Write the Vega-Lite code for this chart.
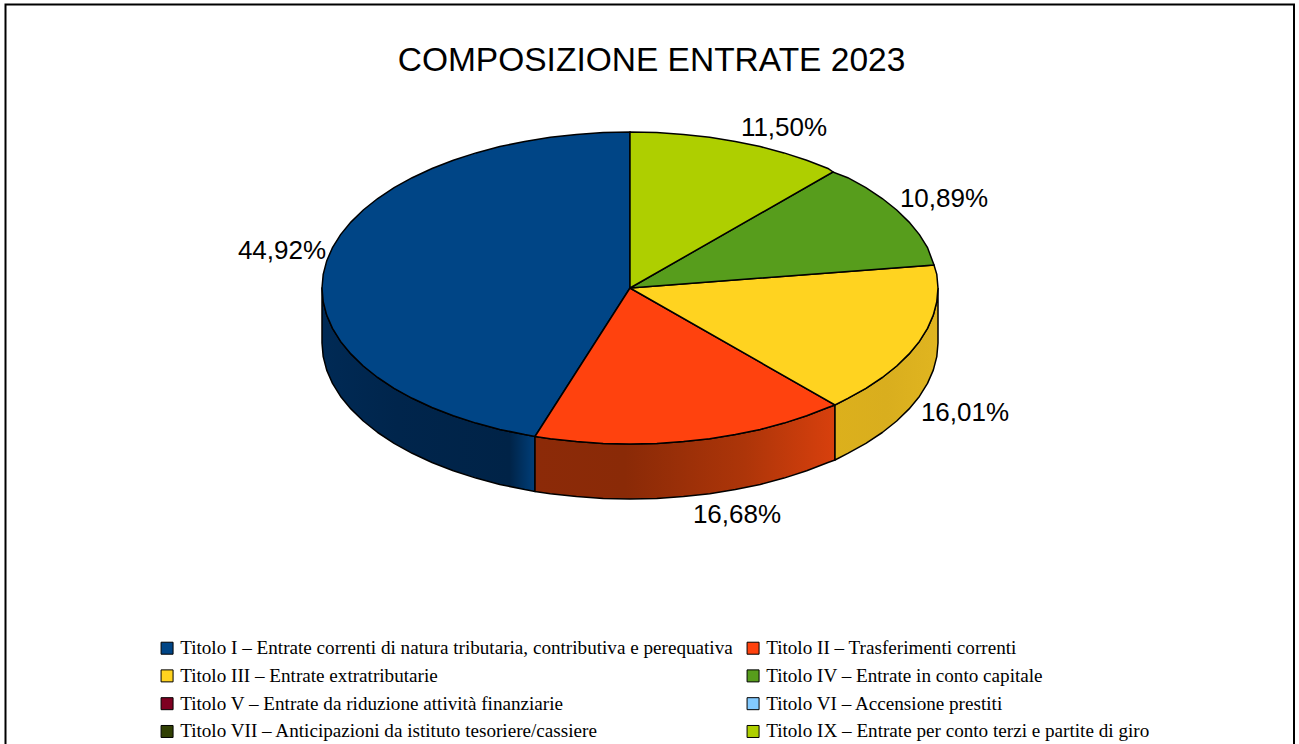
{
"$schema":"https://vega.github.io/schema/vega-lite/v6.json",
"width":1299,"height":744,"padding":0,"autosize":"none",
"background":"white",
"title":{"text":"COMPOSIZIONE ENTRATE 2023","font":"Liberation Sans","fontSize":33.5,"fontWeight":"normal","color":"#000000","anchor":"middle","frame":"group","orient":"top","offset":-78,"dx":2},
"config":{"view":{"stroke":null}},
"datasets":{
"slices":[
{"t":"I","titolo":"Titolo I – Entrate correnti di natura tributaria, contributiva e perequativa","pct":44.92,"label":"44,92%","lx":-348,"ly":37},
{"t":"II","titolo":"Titolo II – Trasferimenti correnti","pct":16.68,"label":"16,68%","lx":107,"ly":-227},
{"t":"III","titolo":"Titolo III – Entrate extratributarie","pct":16.01,"label":"16,01%","lx":335,"ly":-125},
{"t":"IV","titolo":"Titolo IV – Entrate in conto capitale","pct":10.89,"label":"10,89%","lx":314,"ly":89},
{"t":"IX","titolo":"Titolo IX – Entrate per conto terzi e partite di giro","pct":11.50,"label":"11,50%","lx":154,"ly":160}
],
"frame":[{"i":0,"x":-624.5,"y":-456},{"i":1,"x":-624.5,"y":283.5},{"i":2,"x":664,"y":283.5},{"i":3,"x":664,"y":-456}],
"sides":[
{"t":"III","i":0,"x":308,"y":0},{"t":"III","i":1,"x":306.8,"y":-13.6},{"t":"III","i":2,"x":303.3,"y":-27.1},{"t":"III","i":3,"x":297.5,"y":-40.4},{"t":"III","i":4,"x":289.4,"y":-53.4},{"t":"III","i":5,"x":279.1,"y":-65.9},{"t":"III","i":6,"x":266.7,"y":-78},{"t":"III","i":7,"x":252.3,"y":-89.5},{"t":"III","i":8,"x":235.9,"y":-100.3},{"t":"III","i":9,"x":217.8,"y":-110.3},{"t":"III","i":10,"x":205,"y":-117},
{"t":"III","i":11,"x":205,"y":-172},{"t":"III","i":12,"x":217.8,"y":-165.3},{"t":"III","i":13,"x":235.9,"y":-155.3},{"t":"III","i":14,"x":252.3,"y":-144.5},{"t":"III","i":15,"x":266.7,"y":-133},{"t":"III","i":16,"x":279.1,"y":-120.9},{"t":"III","i":17,"x":289.4,"y":-108.4},{"t":"III","i":18,"x":297.5,"y":-95.4},{"t":"III","i":19,"x":303.3,"y":-82.1},{"t":"III","i":20,"x":306.8,"y":-68.6},{"t":"III","i":21,"x":308,"y":-55},{"t":"III","i":22,"x":308,"y":0},
{"t":"II","i":0,"x":205,"y":-117},{"t":"II","i":1,"x":198,"y":-119.5},{"t":"II","i":2,"x":176.7,"y":-127.8},{"t":"II","i":3,"x":154,"y":-135.1},{"t":"II","i":4,"x":130.2,"y":-141.4},{"t":"II","i":5,"x":105.3,"y":-146.6},{"t":"II","i":6,"x":79.7,"y":-150.7},{"t":"II","i":7,"x":53.5,"y":-153.6},{"t":"II","i":8,"x":26.8,"y":-155.4},{"t":"II","i":9,"x":0,"y":-156},{"t":"II","i":10,"x":-26.8,"y":-155.4},{"t":"II","i":11,"x":-53.5,"y":-153.6},{"t":"II","i":12,"x":-79.7,"y":-150.7},{"t":"II","i":13,"x":-95,"y":-148.5},
{"t":"II","i":14,"x":-95,"y":-203.5},{"t":"II","i":15,"x":-79.7,"y":-205.7},{"t":"II","i":16,"x":-53.5,"y":-208.6},{"t":"II","i":17,"x":-26.8,"y":-210.4},{"t":"II","i":18,"x":0,"y":-211},{"t":"II","i":19,"x":26.8,"y":-210.4},{"t":"II","i":20,"x":53.5,"y":-208.6},{"t":"II","i":21,"x":79.7,"y":-205.7},{"t":"II","i":22,"x":105.3,"y":-201.6},{"t":"II","i":23,"x":130.2,"y":-196.4},{"t":"II","i":24,"x":154,"y":-190.1},{"t":"II","i":25,"x":176.7,"y":-182.8},{"t":"II","i":26,"x":198,"y":-174.5},{"t":"II","i":27,"x":205,"y":-172},{"t":"II","i":28,"x":205,"y":-117},
{"t":"I","i":0,"x":-95,"y":-148.5},{"t":"I","i":1,"x":-105.3,"y":-146.6},{"t":"I","i":2,"x":-130.2,"y":-141.4},{"t":"I","i":3,"x":-154,"y":-135.1},{"t":"I","i":4,"x":-176.7,"y":-127.8},{"t":"I","i":5,"x":-198,"y":-119.5},{"t":"I","i":6,"x":-217.8,"y":-110.3},{"t":"I","i":7,"x":-235.9,"y":-100.3},{"t":"I","i":8,"x":-252.3,"y":-89.5},{"t":"I","i":9,"x":-266.7,"y":-78},{"t":"I","i":10,"x":-279.1,"y":-65.9},{"t":"I","i":11,"x":-289.4,"y":-53.4},{"t":"I","i":12,"x":-297.5,"y":-40.4},{"t":"I","i":13,"x":-303.3,"y":-27.1},{"t":"I","i":14,"x":-306.8,"y":-13.6},{"t":"I","i":15,"x":-308,"y":0},
{"t":"I","i":16,"x":-308,"y":-55},{"t":"I","i":17,"x":-306.8,"y":-68.6},{"t":"I","i":18,"x":-303.3,"y":-82.1},{"t":"I","i":19,"x":-297.5,"y":-95.4},{"t":"I","i":20,"x":-289.4,"y":-108.4},{"t":"I","i":21,"x":-279.1,"y":-120.9},{"t":"I","i":22,"x":-266.7,"y":-133},{"t":"I","i":23,"x":-252.3,"y":-144.5},{"t":"I","i":24,"x":-235.9,"y":-155.3},{"t":"I","i":25,"x":-217.8,"y":-165.3},{"t":"I","i":26,"x":-198,"y":-174.5},{"t":"I","i":27,"x":-176.7,"y":-182.8},{"t":"I","i":28,"x":-154,"y":-190.1},{"t":"I","i":29,"x":-130.2,"y":-196.4},{"t":"I","i":30,"x":-105.3,"y":-201.6},{"t":"I","i":31,"x":-95,"y":-203.5},{"t":"I","i":32,"x":-95,"y":-148.5}
],
"tops":[
{"t":"I","i":0,"x":0,"y":0},{"t":"I","i":1,"x":-95,"y":-148.5},{"t":"I","i":2,"x":-105.3,"y":-146.6},{"t":"I","i":3,"x":-130.2,"y":-141.4},{"t":"I","i":4,"x":-154,"y":-135.1},{"t":"I","i":5,"x":-176.7,"y":-127.8},{"t":"I","i":6,"x":-198,"y":-119.5},{"t":"I","i":7,"x":-217.8,"y":-110.3},{"t":"I","i":8,"x":-235.9,"y":-100.3},{"t":"I","i":9,"x":-252.3,"y":-89.5},{"t":"I","i":10,"x":-266.7,"y":-78},{"t":"I","i":11,"x":-279.1,"y":-65.9},{"t":"I","i":12,"x":-289.4,"y":-53.4},{"t":"I","i":13,"x":-297.5,"y":-40.4},{"t":"I","i":14,"x":-303.3,"y":-27.1},{"t":"I","i":15,"x":-306.8,"y":-13.6},{"t":"I","i":16,"x":-308,"y":0},{"t":"I","i":17,"x":-306.8,"y":13.6},{"t":"I","i":18,"x":-303.3,"y":27.1},{"t":"I","i":19,"x":-297.5,"y":40.4},{"t":"I","i":20,"x":-289.4,"y":53.4},{"t":"I","i":21,"x":-279.1,"y":65.9},{"t":"I","i":22,"x":-266.7,"y":78},{"t":"I","i":23,"x":-252.3,"y":89.5},{"t":"I","i":24,"x":-235.9,"y":100.3},{"t":"I","i":25,"x":-217.8,"y":110.3},{"t":"I","i":26,"x":-198,"y":119.5},{"t":"I","i":27,"x":-176.7,"y":127.8},{"t":"I","i":28,"x":-154,"y":135.1},{"t":"I","i":29,"x":-130.2,"y":141.4},{"t":"I","i":30,"x":-105.3,"y":146.6},{"t":"I","i":31,"x":-79.7,"y":150.7},{"t":"I","i":32,"x":-53.5,"y":153.6},{"t":"I","i":33,"x":-26.8,"y":155.4},{"t":"I","i":34,"x":0,"y":156},{"t":"I","i":35,"x":0,"y":0},
{"t":"II","i":0,"x":0,"y":0},{"t":"II","i":1,"x":205,"y":-117},{"t":"II","i":2,"x":198,"y":-119.5},{"t":"II","i":3,"x":176.7,"y":-127.8},{"t":"II","i":4,"x":154,"y":-135.1},{"t":"II","i":5,"x":130.2,"y":-141.4},{"t":"II","i":6,"x":105.3,"y":-146.6},{"t":"II","i":7,"x":79.7,"y":-150.7},{"t":"II","i":8,"x":53.5,"y":-153.6},{"t":"II","i":9,"x":26.8,"y":-155.4},{"t":"II","i":10,"x":0,"y":-156},{"t":"II","i":11,"x":-26.8,"y":-155.4},{"t":"II","i":12,"x":-53.5,"y":-153.6},{"t":"II","i":13,"x":-79.7,"y":-150.7},{"t":"II","i":14,"x":-95,"y":-148.5},{"t":"II","i":15,"x":0,"y":0},
{"t":"III","i":0,"x":0,"y":0},{"t":"III","i":1,"x":304,"y":23},{"t":"III","i":2,"x":306.8,"y":13.6},{"t":"III","i":3,"x":308,"y":0},{"t":"III","i":4,"x":306.8,"y":-13.6},{"t":"III","i":5,"x":303.3,"y":-27.1},{"t":"III","i":6,"x":297.5,"y":-40.4},{"t":"III","i":7,"x":289.4,"y":-53.4},{"t":"III","i":8,"x":279.1,"y":-65.9},{"t":"III","i":9,"x":266.7,"y":-78},{"t":"III","i":10,"x":252.3,"y":-89.5},{"t":"III","i":11,"x":235.9,"y":-100.3},{"t":"III","i":12,"x":217.8,"y":-110.3},{"t":"III","i":13,"x":205,"y":-117},{"t":"III","i":14,"x":0,"y":0},
{"t":"IV","i":0,"x":0,"y":0},{"t":"IV","i":1,"x":203,"y":116},{"t":"IV","i":2,"x":217.8,"y":110.3},{"t":"IV","i":3,"x":235.9,"y":100.3},{"t":"IV","i":4,"x":252.3,"y":89.5},{"t":"IV","i":5,"x":266.7,"y":78},{"t":"IV","i":6,"x":279.1,"y":65.9},{"t":"IV","i":7,"x":289.4,"y":53.4},{"t":"IV","i":8,"x":297.5,"y":40.4},{"t":"IV","i":9,"x":304,"y":23},{"t":"IV","i":10,"x":0,"y":0},
{"t":"IX","i":0,"x":0,"y":0},{"t":"IX","i":1,"x":0,"y":156},{"t":"IX","i":2,"x":26.8,"y":155.4},{"t":"IX","i":3,"x":53.5,"y":153.6},{"t":"IX","i":4,"x":79.7,"y":150.7},{"t":"IX","i":5,"x":105.3,"y":146.6},{"t":"IX","i":6,"x":130.2,"y":141.4},{"t":"IX","i":7,"x":154,"y":135.1},{"t":"IX","i":8,"x":176.7,"y":127.8},{"t":"IX","i":9,"x":198,"y":119.5},{"t":"IX","i":10,"x":203,"y":116},{"t":"IX","i":11,"x":0,"y":0}
]
},
"encoding":{
"x":{"field":"x","type":"quantitative","scale":{"domain":[-630,669],"nice":false,"zero":false},"axis":null},
"y":{"field":"y","type":"quantitative","scale":{"domain":[-456,288],"nice":false,"zero":false},"axis":null}
},
"layer":[
{"data":{"name":"sides"},"transform":[{"filter":"datum.t==='I'"}],
"mark":{"type":"line","filled":true,"stroke":"#000000","strokeWidth":1.5,"strokeJoin":"round","fill":{"gradient":"linear","x1":0,"y1":0,"x2":1,"y2":0,"stops":[{"offset":0,"color":"#002a55"},{"offset":0.35,"color":"#00254c"},{"offset":0.88,"color":"#002347"},{"offset":1,"color":"#003f7a"}]}},
"encoding":{"order":{"field":"i","type":"quantitative"}}},
{"data":{"name":"sides"},"transform":[{"filter":"datum.t==='II'"}],
"mark":{"type":"line","filled":true,"stroke":"#000000","strokeWidth":1.5,"strokeJoin":"round","fill":{"gradient":"linear","x1":0,"y1":0,"x2":1,"y2":0,"stops":[{"offset":0,"color":"#8c2a08"},{"offset":0.3,"color":"#8a2a07"},{"offset":0.7,"color":"#ad3509"},{"offset":1,"color":"#d8400d"}]}},
"encoding":{"order":{"field":"i","type":"quantitative"}}},
{"data":{"name":"sides"},"transform":[{"filter":"datum.t==='III'"}],
"mark":{"type":"line","filled":true,"stroke":"#000000","strokeWidth":1.5,"strokeJoin":"round","fill":{"gradient":"linear","x1":0,"y1":0,"x2":1,"y2":0,"stops":[{"offset":0,"color":"#dcb01c"},{"offset":0.5,"color":"#d9ae1e"},{"offset":1,"color":"#e0b520"}]}},
"encoding":{"order":{"field":"i","type":"quantitative"}}},
{"data":{"name":"tops"},
"transform":[{"lookup":"t","from":{"data":{"name":"slices"},"key":"t","fields":["titolo","pct"]}}],
"mark":{"type":"line","filled":true,"stroke":"#000000","strokeWidth":1.5,"strokeJoin":"miter","strokeMiterLimit":2},
"encoding":{
"order":{"field":"i","type":"quantitative"},
"color":{"field":"titolo","type":"nominal","sort":null,
"scale":{"domain":[
"Titolo I – Entrate correnti di natura tributaria, contributiva e perequativa",
"Titolo III – Entrate extratributarie",
"Titolo V – Entrate da riduzione attività finanziarie",
"Titolo VII – Anticipazioni da istituto tesoriere/cassiere",
"Titolo II – Trasferimenti correnti",
"Titolo IV – Entrate in conto capitale",
"Titolo VI – Accensione prestiti",
"Titolo IX – Entrate per conto terzi e partite di giro"],
"range":["#004586","#ffd320","#7e0021","#314004","#ff420e","#579d1c","#83caff","#aecf00"]},
"legend":{"title":null,"orient":"none","legendX":157.5,"legendY":638.5,"columns":2,"symbolType":"square","symbolSize":144,"symbolStrokeColor":"#000000","symbolStrokeWidth":1,"labelFont":"Liberation Serif","labelFontSize":19.15,"labelColor":"#000000","labelLimit":0,"labelOffset":3.5,"rowPadding":7.8,"columnPadding":10,"padding":0}}
}},
{"data":{"name":"frame"},"mark":{"type":"line","stroke":"#000000","strokeWidth":2},"encoding":{"order":{"field":"i","type":"quantitative"}}},
{"data":{"name":"slices"},"mark":{"type":"text","font":"Liberation Sans","fontSize":26,"color":"#000000","align":"center","baseline":"middle"},
"encoding":{"x":{"field":"lx","type":"quantitative"},"y":{"field":"ly","type":"quantitative"},"text":{"field":"label"}}}
]
}
